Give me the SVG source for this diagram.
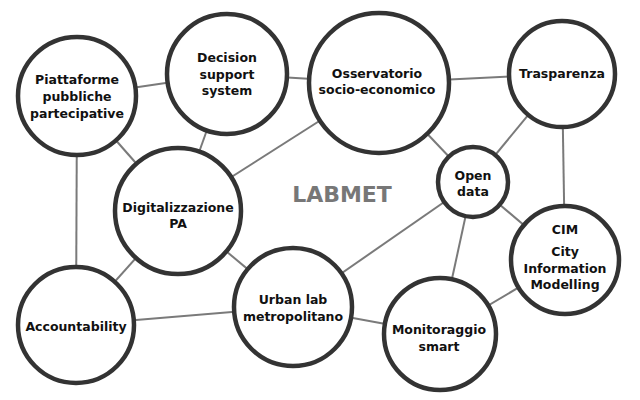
<svg xmlns="http://www.w3.org/2000/svg" width="640" height="400" viewBox="0 0 640 400">
<style>
.n{fill:#fff;stroke:#333;stroke-width:4.5}
.e line{stroke:#7a7a7a;stroke-width:2}
text{font-family:"DejaVu Sans","Liberation Sans",sans-serif;font-weight:bold;font-size:12.5px;fill:#111;text-anchor:middle}
.t{font-size:22px;fill:#777}
</style>
<rect width="640" height="400" fill="#fff"/>
<g class="e" id="connectors">
<line x1="77" y1="96" x2="227" y2="74"/>
<line x1="227" y1="74" x2="379" y2="83"/>
<line x1="379" y1="83" x2="562" y2="74"/>
<line x1="77" y1="96" x2="178" y2="211"/>
<line x1="227" y1="74" x2="178" y2="211"/>
<line x1="379" y1="83" x2="178" y2="211"/>
<line x1="379" y1="83" x2="473" y2="182"/>
<line x1="562" y1="74" x2="473" y2="182"/>
<line x1="562" y1="74" x2="565" y2="260"/>
<line x1="473" y1="182" x2="565" y2="260"/>
<line x1="473" y1="182" x2="293" y2="307"/>
<line x1="473" y1="182" x2="440" y2="334"/>
<line x1="565" y1="260" x2="440" y2="334"/>
<line x1="293" y1="307" x2="440" y2="334"/>
<line x1="293" y1="307" x2="76" y2="325"/>
<line x1="76" y1="325" x2="178" y2="211"/>
<line x1="76" y1="325" x2="77" y2="96"/>
<line x1="178" y1="211" x2="293" y2="307"/>
</g>
<text class="t" x="342" y="202">LABMET</text>
<g id="piattaforme"><circle class="n" cx="77" cy="96" r="59"/><text x="77" y="84">Piattaforme</text><text x="77" y="101">pubbliche</text><text x="77" y="118">partecipative</text></g>
<g id="decision"><circle class="n" cx="227" cy="74" r="60"/><text x="227" y="62">Decision</text><text x="227" y="79">support</text><text x="227" y="95">system</text></g>
<g id="osservatorio"><circle class="n" cx="379" cy="83" r="70"/><text x="377" y="78">Osservatorio</text><text x="377" y="94">socio-economico</text></g>
<g id="trasparenza"><circle class="n" cx="562" cy="74" r="53"/><text x="562" y="78">Trasparenza</text></g>
<g id="opendata"><circle class="n" cx="473" cy="182" r="35"/><text x="473" y="180">Open</text><text x="473" y="196">data</text></g>
<g id="digitalizzazione"><circle class="n" cx="178" cy="211" r="63"/><text x="178" y="212">Digitalizzazione</text><text x="178" y="228">PA</text></g>
<g id="accountability"><circle class="n" cx="76" cy="325" r="58"/><text x="76" y="331">Accountability</text></g>
<g id="urbanlab"><circle class="n" cx="293" cy="307" r="59"/><text x="293" y="304">Urban lab</text><text x="293" y="321">metropolitano</text></g>
<g id="monitoraggio"><circle class="n" cx="440" cy="334" r="56"/><text x="439" y="334">Monitoraggio</text><text x="439" y="351">smart</text></g>
<g id="cim"><circle class="n" cx="565" cy="260" r="54"/><text x="565" y="234">CIM</text><text x="565" y="256">City</text><text x="565" y="273">Information</text><text x="565" y="289">Modelling</text></g>
</svg>
